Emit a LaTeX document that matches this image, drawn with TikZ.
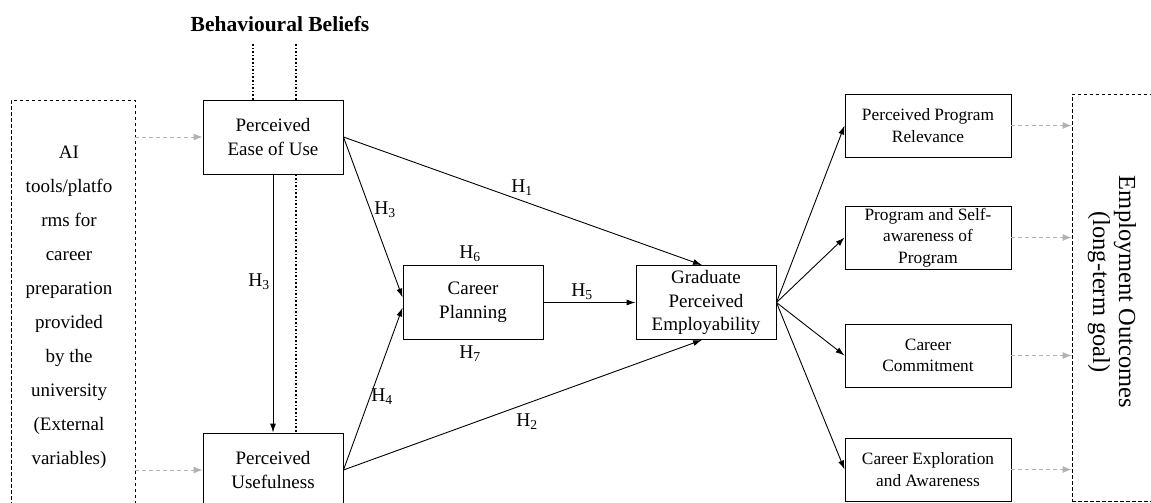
\documentclass[tikz,border=0pt]{standalone}
\usepackage{fontspec}
\setmainfont{Liberation Serif}
\usetikzlibrary{arrows.meta}

\tikzset{
  construct/.style={draw, line width=0.9pt, minimum width=140pt, minimum height=74pt,
    inner sep=2pt, align=center, font=\fontsize{19}{24}\selectfont},
  outcome/.style={draw, line width=0.9pt, minimum width=166pt, minimum height=63pt,
    inner sep=2pt, align=center, font=\fontsize{17.3}{21.5}\selectfont},
  extbox/.style={draw, line width=0.8pt, dash pattern=on 3.5pt off 2.5pt},
  hyp/.style={inner sep=0pt, font=\fontsize{19.5}{19.5}\selectfont},
  link/.style={line width=0.9pt, -{Latex[length=9pt,width=6pt]}},
  feed/.style={gray!60, line width=0.9pt, dash pattern=on 4pt off 3pt,
    -{Latex[length=9pt,width=7pt]}},
  belief/.style={line width=1.8pt, dash pattern=on 1.6pt off 2pt}
}

\begin{document}
\begin{tikzpicture}[x=1pt,y=-1pt]
  \useasboundingbox (0,0) rectangle (1151,503);
  \clip (0,0) rectangle (1151,503);

  % External variables
  \node[extbox, minimum width=124pt, minimum height=412pt] (ext) at (73,306) {};
  \node[align=center, font=\fontsize{19}{34}\selectfont] (extlabel) at (69,307)
    {AI\\tools/platfo\\rms for\\career\\preparation\\provided\\by the\\university\\(External\\variables)};

  % Behavioural beliefs
  \node[font=\fontsize{21.5}{26}\selectfont\bfseries] (beliefs) at (280,24) {Behavioural Beliefs};
  \node[construct] (peu) at (273,137) {Perceived\\Ease of Use};
  \node[construct] (pu) at (273,470) {Perceived\\Usefulness};
  \draw[belief] ([xshift=-20pt]peu.north) -- ++(0,-57);
  \draw[belief] ([xshift=23pt]peu.north) -- ++(0,-57);
  \draw[belief] ([xshift=23pt]peu.south) -- ([xshift=23pt]pu.north);

  % Mediator and employability
  \node[construct] (cp) at (473,302.5) {Career\\Planning};
  \node[construct, font=\fontsize{19}{23.5}\selectfont] (gpe) at (706,302.5)
    {Graduate\\Perceived\\Employability};

  % Outcomes
  \node[outcome] (ppr) at (928,125.5) {Perceived Program\\Relevance};
  \node[outcome] (psa) at (928,237.5) {Program and Self-\\awareness of\\Program};
  \node[outcome] (cc) at (928,355.5) {Career\\Commitment};
  \node[outcome] (cea) at (928,469.5) {Career Exploration\\and Awareness};
  \node[extbox, minimum width=92pt, minimum height=407pt] (goal) at (1118,297.5) {};
  \node[rotate=-90, align=center, font=\fontsize{24.5}{26}\selectfont] (goallabel) at (1112,292)
    {Employment Outcomes\\(long-term goal)};

  % Paths
  \draw[feed] (ext.east |- peu.west) -- (peu.west);
  \draw[feed] (ext.east |- pu.west) -- (pu.west);
  \draw[link] (peu.south) -- (pu.north);
  \draw[link] (peu.east) -- ([yshift=5pt]cp.west);
  \draw[link] (pu.east) -- ([yshift=-5pt]cp.west);
  \draw[link] (peu.east) -- ([xshift=-4pt]gpe.north);
  \draw[link] (pu.east) -- ([xshift=-4pt]gpe.south);
  \draw[link] (cp.east) -- (gpe.west);
  \foreach \o in {ppr,psa,cc,cea} {
    \draw[link] (gpe.east) -- (\o.west);
    \draw[feed] (\o.east) -- (goal.west |- \o.east);
  }

  % Hypotheses
  \node[hyp] (h1) at (522,188) {H\textsubscript{1}};
  \node[hyp] (h2) at (527,422) {H\textsubscript{2}};
  \node[hyp] (h3a) at (259,282) {H\textsubscript{3}};
  \node[hyp] (h3b) at (385,210) {H\textsubscript{3}};
  \node[hyp] (h4) at (382,397) {H\textsubscript{4}};
  \node[hyp] (h5) at (582,292) {H\textsubscript{5}};
  \node[hyp] (h6) at (470,254) {H\textsubscript{6}};
  \node[hyp] (h7) at (470,354) {H\textsubscript{7}};
\end{tikzpicture}
\end{document}
